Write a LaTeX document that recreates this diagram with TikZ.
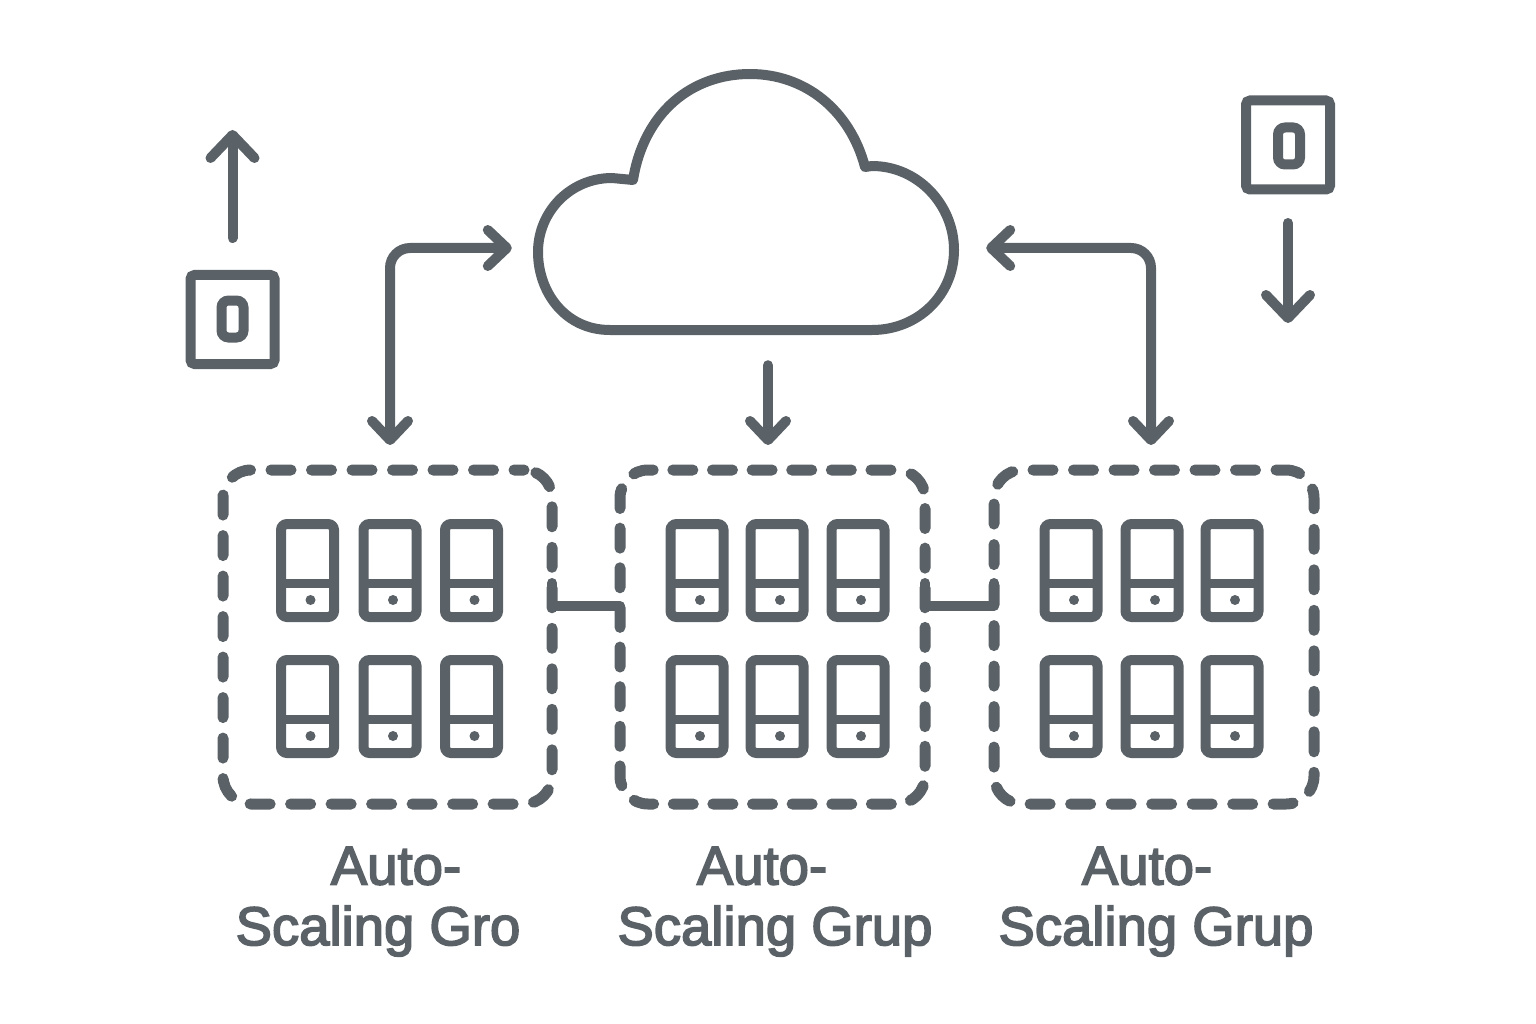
\documentclass[tikz,border=0pt]{standalone}
\usepackage{fontspec}
\setmainfont{Liberation Sans}
\newfontfamily\capfont{Liberation Sans}[FakeBold=3]
\usetikzlibrary{arrows.meta}
\definecolor{slate}{HTML}{5A6167}
\tikzset{
  link/.style = {draw=slate, line width=10pt, line cap=round, line join=round},
  groupbox/.style = {draw=slate, line width=11pt, line cap=round, rounded corners=28pt, outer sep=0pt,
    inner sep=0pt, minimum height=334pt},
  phone/.style = {draw=slate, line width=10pt, rounded corners=6pt, inner sep=0pt, outer sep=0pt,
    minimum width=53pt, minimum height=93pt},
  iconbox/.style = {draw=slate, line width=10pt, rounded corners=4pt, inner sep=0pt, outer sep=0pt,
    minimum width=84pt, minimum height=89pt},
  iconcore/.style = {draw=slate, line width=10pt, rounded corners=7pt, inner sep=0pt, minimum width=22pt, minimum height=37pt},
  caption/.style = {font=\capfont\fontsize{54.5}{54.5}\selectfont, text=slate, inner sep=0pt},
  bighead/.style = {>={Straight Barb[length=23pt, width=44pt, line cap=round, line join=round]}},
}
\begin{document}
\begin{tikzpicture}[x=1pt, y=-1pt, >={Straight Barb[length=19pt, width=36pt, line cap=round, line join=round]}]
  \useasboundingbox (0,0) rectangle (1536,1024);
  % cloud
  \node (cloud) [minimum width=416pt, minimum height=256pt, inner sep=0pt] at (746,202) {};
  \draw[link] (610,330) .. controls (565,330) and (538,292) .. (538,252)
    .. controls (538,212) and (570,178) .. (612,178) -- (633,180)
    .. controls (644,112) and (692,74) .. (750,74)
    .. controls (805,74) and (850,110) .. (865,167) -- (872,166)
    .. controls (918,166) and (954,205) .. (954,250)
    .. controls (954,295) and (918,330) .. (872,330) -- cycle;
  % groups
  \node (groupA) [groupbox, minimum width=329pt, dash pattern=on 20pt off 20.5pt, dash phase=10pt] at (387.5,637) {};
  \node (groupB) [groupbox, minimum width=305pt, dash pattern=on 20pt off 19.63pt, dash phase=33.6pt] at (772.5,637) {};
  \node (groupC) [groupbox, minimum width=320pt, dash pattern=on 20pt off 20.5pt, dash phase=10pt] at (1154,637) {};
  % phones
  \foreach \col/\px in {a1/307.5, a2/390, a3/471.5, b1/697, b2/777, b3/858, c1/1071, c2/1152, c3/1232}
    \foreach \row/\py in {t/570.5, u/706.5} {
      \node (phone\col\row) [phone] at (\px,\py) {};
      \draw[slate, line width=9pt] ([yshift=-12.5pt]phone\col\row.west) -- ([yshift=-12.5pt]phone\col\row.east);
      \fill[slate] ([xshift=3pt, yshift=-29.5pt]phone\col\row.center) circle (5);
    }
  % arrows from the cloud
  \draw[link, <->, rounded corners=20pt, shorten <=26pt, shorten >=25pt] ([yshift=-46pt]cloud.west) -| ([xshift=2.5pt]groupA.north);
  \draw[link, <->, rounded corners=20pt, shorten <=32pt, shorten >=25pt] ([yshift=-46pt]cloud.east) -| ([xshift=-3pt]groupC.north);
  \draw[link, ->, shorten <=35pt, shorten >=25pt] ([xshift=22pt]cloud.south) -- ([xshift=-4.5pt]groupB.north);
  % links between groups
  \draw[link] ([yshift=54pt]groupA.east) |- ([yshift=31pt]groupB.west) -- ([yshift=10pt]groupB.west);
  \draw[link] ([yshift=54pt]groupB.east) |- ([yshift=31pt]groupC.west) -- ([yshift=54pt]groupC.west);
  % scale icons
  \node (boxL) [iconbox] at (232.5,319.5) {};
  \node (coreL) [iconcore] at (232.5,319) {};
  \node (boxR) [iconbox] at (1288,145) {};
  \node (coreR) [iconcore] at (1289,146) {};
  \draw[link, bighead, ->, shorten <=37pt] (boxL.north) -- ++(0,-145);
  \draw[link, bighead, ->, shorten <=33.5pt] (boxR.south) -- ++(0,133.5);
  % captions
  \node (labelA) [caption] at (396,866) {Auto-};
  \node (nameA) [caption] at (378,931) {Scaling Gro};
  \node (labelB) [caption] at (762,866) {Auto-};
  \node (nameB) [caption] at (775,931) {Scaling Grup};
  \node (labelC) [caption] at (1147,866) {Auto-};
  \node (nameC) [caption] at (1156,931) {Scaling Grup};
\end{tikzpicture}
\end{document}
